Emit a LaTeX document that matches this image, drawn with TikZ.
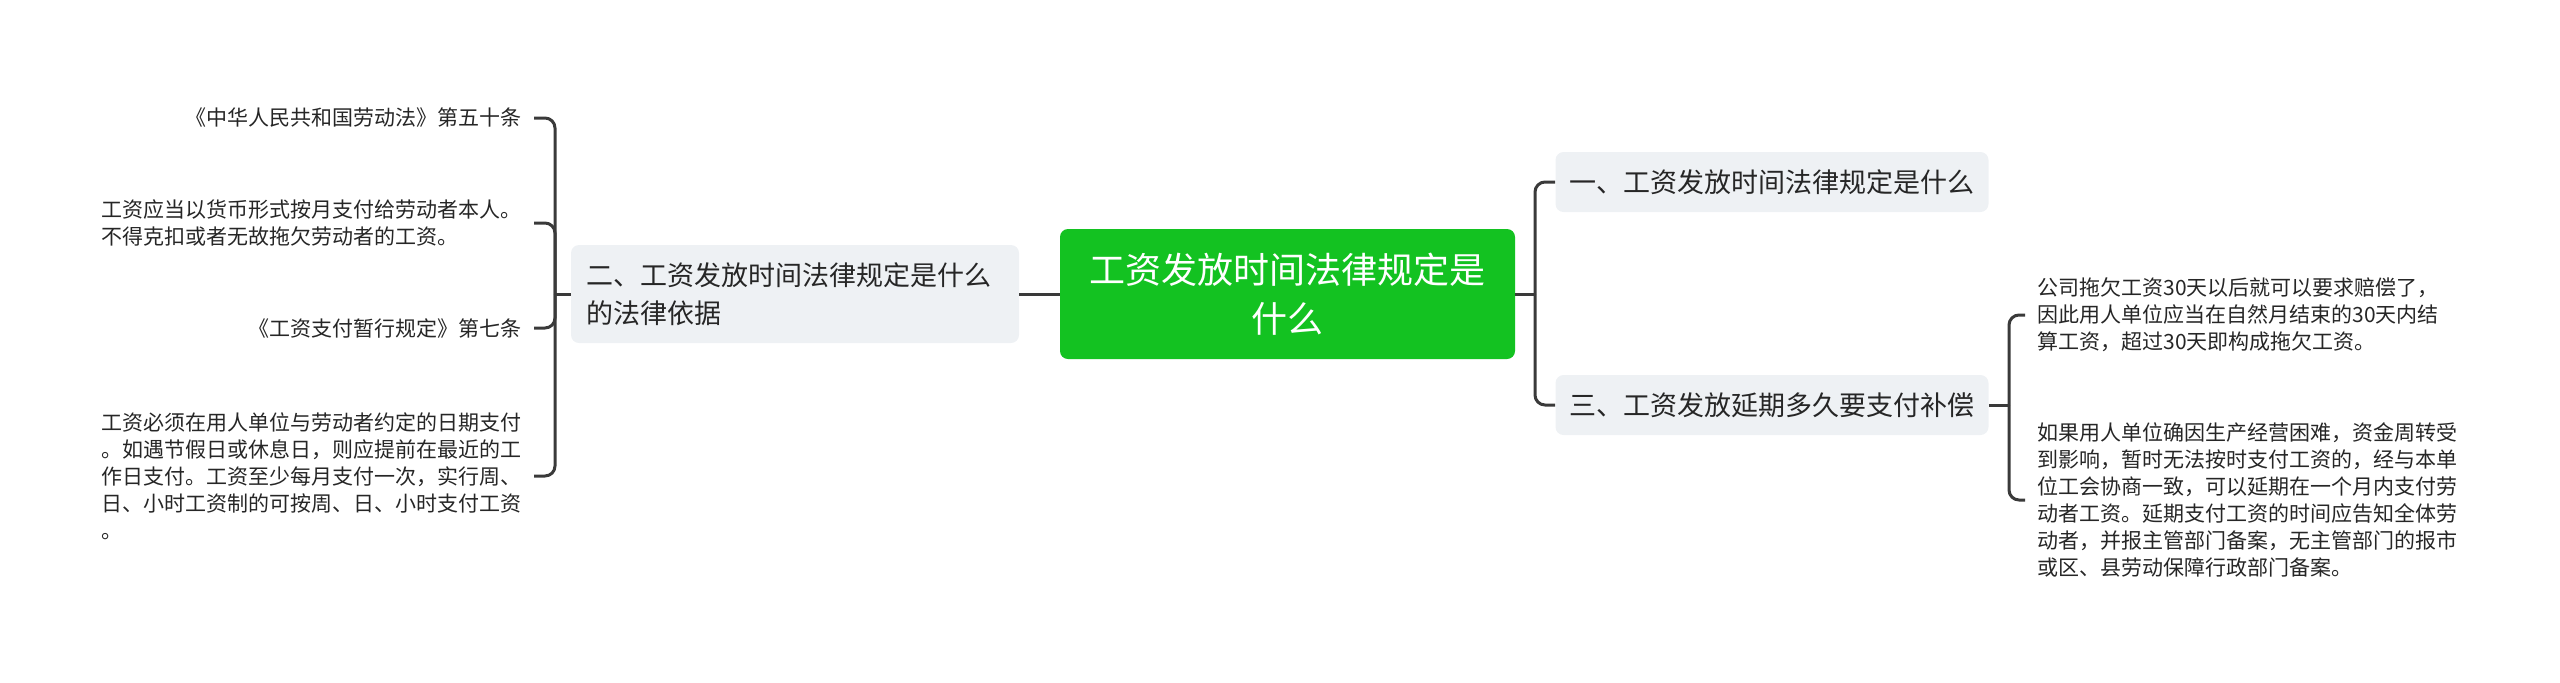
\documentclass[tikz,border=0pt]{standalone}
\usepackage{fontspec}
\setmainfont{Noto Sans CJK SC}
\usetikzlibrary{positioning, calc}

\definecolor{rootgreen}{RGB}{19,194,33}
\definecolor{topicgrey}{RGB}{238,241,244}
\definecolor{linegrey}{RGB}{58,58,58}
\definecolor{inkgrey}{RGB}{38,38,38}

\tikzset{
  hubbox/.style={fill=rootgreen, text=white, rounded corners=4pt, align=center,
    minimum width=227.5pt, minimum height=65pt, inner sep=0pt,
    font=\fontsize{18}{24.5}\selectfont},
  topic/.style={fill=topicgrey, text=inkgrey, rounded corners=4pt, align=left,
    inner xsep=7pt, minimum height=30pt, font=\fontsize{13.5}{18.8}\selectfont},
  leafnote/.style={text=inkgrey, align=left, inner sep=6pt,
    font=\fontsize{10.5}{13.5}\selectfont},
  link/.style={draw=linegrey, line width=1.5pt, rounded corners=5pt},
}

\begin{document}
\begin{tikzpicture}[x=0.5pt, y=-0.5pt]
        \useasboundingbox (0,0) rectangle (2560,682);

        \node[hubbox] (hub) at (1287.5,294) {工资发放时间法律规定是\\什么};
        \node[topic, text width=209pt, inner xsep=7.5pt, minimum height=49pt] (basis) at (795,294)
            {二、工资发放时间法律规定是什么\\的法律依据};
        \node[topic] (r1) at (1772,182) {一、工资发放时间法律规定是什么};
        \node[topic] (r3) at (1772,405) {三、工资发放延期多久要支付补偿};

        \node[leafnote, anchor=east] (l1) at (534,118) {《中华人民共和国劳动法》第五十条};
        \node[leafnote, anchor=east] (l2) at (534,223)
            {工资应当以货币形式按月支付给劳动者本人。\\不得克扣或者无故拖欠劳动者的工资。};
        \node[leafnote, anchor=east] (l3) at (534,328) {《工资支付暂行规定》第七条};
        \node[leafnote, anchor=east] (l4) at (534,476)
            {工资必须在用人单位与劳动者约定的日期支付\\。如遇节假日或休息日，则应提前在最近的工\\作日支付。工资至少每月支付一次，实行周、\\日、小时工资制的可按周、日、小时支付工资\\。};

        \node[leafnote, anchor=west] (r3a) at (2025,315)
            {公司拖欠工资30天以后就可以要求赔偿了，\\因此用人单位应当在自然月结束的30天内结\\算工资，超过30天即构成拖欠工资。};
        \node[leafnote, anchor=west] (r3b) at (2025,500)
            {如果用人单位确因生产经营困难，资金周转受\\到影响，暂时无法按时支付工资的，经与本单\\位工会协商一致，可以延期在一个月内支付劳\\动者工资。延期支付工资的时间应告知全体劳\\动者，并报主管部门备案，无主管部门的报市\\或区、县劳动保障行政部门备案。};

        \coordinate (lj) at (555,294);
        \coordinate (rj) at (1535,294);
        \coordinate (rj3) at (2009,405);

        \draw[link] (hub.west) -- (basis.east);
        \draw[link] (basis.west) -- (lj);
        \draw[link] (lj) |- (l1.east);
        \draw[link] (lj) |- (l2.east);
        \draw[link] (lj) |- (l3.east);
        \draw[link] (lj) |- (l4.east);

        \draw[link] (hub.east) -- (rj);
        \draw[link] (rj) |- (r1.west);
        \draw[link] (rj) |- (r3.west);

        \draw[link] (r3.east) -- (rj3);
        \draw[link] (rj3) |- (r3a.west);
        \draw[link] (rj3) |- (r3b.west);

    \end{tikzpicture}
\end{document}
